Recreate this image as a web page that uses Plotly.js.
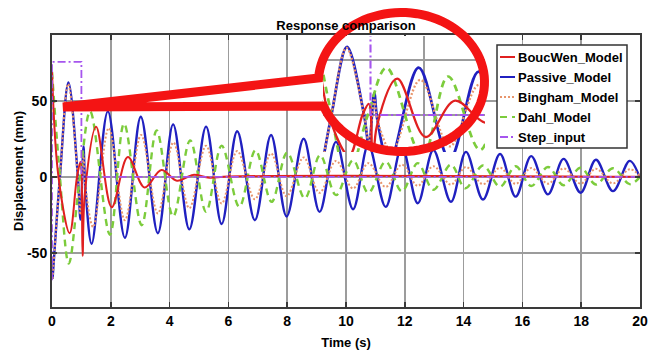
<!DOCTYPE html>
<html>
<head>
<meta charset="utf-8">
<script src="https://cdn.plot.ly/plotly-3.0.1.min.js"></script>
<style>html,body{margin:0;padding:0;background:#fff}#chart{width:656px;height:351px}</style>
</head>
<body>
<div id="chart"></div>
<script>
// ---------------- data ----------------
const seriesNames = ['BoucWen_Model', 'Passive_Model', 'Bingham_Model', 'Dahl_Model', 'Step_input'];

const boucWenT = [0, 0.22, 0.6, 0.85, 0.97, 1.04, 1.12, 1.5, 2.03, 2.58, 3.15, 3.72, 4.25, 4.8, 5.35, 6.0, 20];
const boucWenY = [69, 0, -37, 0, 10, -52, -10, 33, -20, 13, -7, 4.5, -2.5, 1.3, -0.6, 0.2, 0];

const passiveT = [0.02, 0.27, 0.56, 0.88, 0.97, 1.07, 1.13, 1.35, 1.9, 2.48, 3.02, 3.6, 4.12, 4.67, 5.24, 5.77, 6.3, 6.9, 7.45, 7.98, 8.56, 9.1, 9.66, 10.24, 10.76, 11.35, 11.9, 12.44, 12.97, 13.57, 14.08, 14.66, 15.24, 15.77, 16.3, 16.87, 17.4, 17.98, 18.5, 19.08, 19.65, 20];
const passiveY = [-67, 0, 62, 0, -28, 20, -5, -44, 43, -40, 39.5, -37, 34.5, -34.5, 33, -31, 30, -28.5, 27.5, -26, 25, -23, 23, -21.3, 21, -19.7, 19.7, -17.3, 17.6, -16.4, 16.4, -14.9, 15, -13, 13.6, -11.5, 11.8, -10.4, 11.2, -9.4, 10.5, -1];

const binghamT = [0.02, 0.27, 0.55, 0.88, 0.97, 1.07, 1.13, 1.4, 1.93, 2.48, 3.03, 3.6, 4.13, 4.67, 5.24, 5.77, 6.3, 6.9, 7.45, 7.98, 8.56, 9.1, 9.66, 10.24, 10.76, 11.35, 11.9, 12.44, 12.97, 13.57, 14.08, 14.66, 15.24, 15.77, 16.3, 16.87, 17.4, 17.98, 18.5, 19.08, 19.65, 20];
const binghamY = [-67, 0, 61, 0, -25, 15, -5, -33, 32, -28.5, 27.5, -24, 22.6, -20.6, 20.5, -17.5, 17, -14.7, 15.4, -12.7, 12.8, -10.5, 10.5, -7.6, 9, -6.6, 8, -5.9, 7, -5.1, 6.5, -4.8, 6, -4.6, 5.8, -4.5, 5.5, -4.4, 5.3, -4.3, 5, 0.5];

const dahlT = [0, 0.25, 0.57, 0.95, 1.3, 1.97, 2.45, 3.05, 3.56, 4.12, 4.7, 5.24, 5.77, 6.37, 6.92, 7.47, 8.0, 8.6, 9.12, 9.66, 10.24, 10.76, 11.35, 11.9, 12.44, 12.97, 13.57, 14.06, 14.66, 15.24, 15.77, 16.3, 16.87, 17.4, 17.98, 18.5, 19.08, 19.65, 20];
const dahlY = [69, 5, -57, 0, 43, -38, 35, -31.8, 30.5, -26, 24, -23, 20.5, -19.7, 17.5, -16.4, 16, -14.2, 14.3, -12, 11, -10.5, 10, -9.5, 9, -8.5, 8, -7.5, 7.5, -6.5, 7, -6, 6.5, -5.5, 6, -5, 5.7, -4.8, 0];

const stepT = [0, 0, 1, 1, 20];
const stepY = [-68, 75.5, 75.5, 0, 0];

const xTickVals = [0, 2, 4, 6, 8, 10, 12, 14, 16, 18, 20];
const xTickText = ['0', '2', '4', '6', '8', '10', '12', '14', '16', '18', '20'];
const yTickVals = [-50, 0, 50];
const yTickText = ['-50', '0', '50'];

// ---------------- geometry helpers (pixels -> paper / inset axes) ----------------
const W = 656, H = 351, PL = 52, PR = 640, PT = 35, PB = 307;
const px2x = p => (p - PL) / (PR - PL);
const py2y = p => (PB - p) / (PB - PT);
// inset (magnified view) scale: t = (px - 317)/53.5 ; mm = (115 - py)/1.1
const ipx = p => (p - 317) / 53.5;
const ipy = p => (115 - p) / 1.1;
const insetBox = {x0: 323, x1: 485, y0: 36, y1: 152};

const FONT = 'Liberation Sans, Arial, sans-serif';
const colors = {red: '#e02020', blue: '#2020c0', orange: '#e8956c', green: '#7ccc3c', purple: '#a655ee'};
const lineStyles = [
  {color: colors.red, width: 2, dash: 'solid'},
  {color: colors.blue, width: 2.4, dash: 'solid'},
  {color: colors.orange, width: 2, dash: '2px,2px'},
  {color: colors.green, width: 2.4, dash: '7px,5px'},
  {color: colors.purple, width: 1.8, dash: '8px,3px,2px,3px'}
];
const seriesT = [boucWenT, passiveT, binghamT, dahlT, stepT];
const seriesY = [boucWenY, passiveY, binghamY, dahlY, stepY];
const drawOrder = [1, 2, 3, 0, 4];

const traces = [];
drawOrder.forEach(i => {
  traces.push({x: seriesT[i], y: seriesY[i], name: seriesNames[i], type: 'scatter', mode: 'lines',
    line: Object.assign({shape: i === 4 ? 'linear' : 'spline', smoothing: 1}, lineStyles[i]),
    showlegend: false, xaxis: 'x', yaxis: 'y', hoverinfo: 'skip'});
});
drawOrder.forEach(i => {
  const st = lineStyles[i];
  traces.push({x: seriesT[i], y: seriesY[i], name: seriesNames[i], type: 'scatter', mode: 'lines',
    line: Object.assign({shape: i === 4 ? 'linear' : 'spline', smoothing: 1}, st, {width: st.width + 0.3}),
    showlegend: false, xaxis: 'x2', yaxis: 'y2', hoverinfo: 'skip'});
});

// callout: ellipse ring + tail
const cx = 401.5, cy = 82, rx = 83, ry = 69.5;
const tip = [63, 107];
const thU = Math.PI - Math.asin((78 - cy) / ry);
const thL = 3 * Math.PI - Math.asin((106 - cy) / ry);
let ring = '';
const N = 90;
for (let k = 0; k <= N; k++) {
  const th = thU + (thL - thU) * k / N;
  const X = px2x(cx + rx * Math.cos(th)), Y = py2y(cy + ry * Math.sin(th));
  ring += (k === 0 ? 'M' : 'L') + X.toFixed(5) + ',' + Y.toFixed(5) + ' ';
}
const uP = [cx + rx * Math.cos(thU), cy + ry * Math.sin(thU)];
const lP = [cx + rx * Math.cos(thL), cy + ry * Math.sin(thL)];
ring += 'L' + px2x(tip[0]).toFixed(5) + ',' + py2y(tip[1]).toFixed(5) + ' Z';
const tailFill = 'M' + px2x(uP[0]) + ',' + py2y(uP[1]) + ' L' + px2x(tip[0]) + ',' + py2y(tip[1]) +
  ' L' + px2x(lP[0]) + ',' + py2y(lP[1]) + ' Z';

const shapes = [
  {type: 'circle', xref: 'x2', yref: 'y2', layer: 'below',
   x0: ipx(cx - rx), x1: ipx(cx + rx), y0: ipy(cy + ry), y1: ipy(cy - ry),
   fillcolor: '#ffffff', line: {width: 0}},
  {type: 'path', xref: 'paper', yref: 'paper', layer: 'above', path: tailFill,
   fillcolor: '#ffffff', line: {width: 0}},
  {type: 'path', xref: 'paper', yref: 'paper', layer: 'above', path: ring,
   fillcolor: 'rgba(0,0,0,0)', line: {color: '#f41414', width: 9}}
];

// legend (box, line samples, labels)
const legBox = {x0: 497, x1: 627, y0: 45, y1: 148};
const legRowY = [57, 77, 97, 117, 137];
const annotations = [];
shapes.push({type: 'rect', xref: 'paper', yref: 'paper', layer: 'above',
  x0: px2x(legBox.x0), x1: px2x(legBox.x1), y0: py2y(legBox.y1), y1: py2y(legBox.y0),
  fillcolor: '#ffffff', line: {color: '#333333', width: 1.5}});
seriesNames.forEach((nm, i) => {
  const st = lineStyles[i];
  shapes.push({type: 'line', xref: 'paper', yref: 'paper', layer: 'above',
    x0: px2x(500), x1: px2x(515), y0: py2y(legRowY[i]), y1: py2y(legRowY[i]),
    line: {color: st.color, width: Math.min(st.width, 2), dash: st.dash}});
  annotations.push({text: nm, xref: 'paper', yref: 'paper', x: px2x(516), y: py2y(legRowY[i]),
    xanchor: 'left', yanchor: 'middle', showarrow: false,
    font: {family: FONT, size: 13, weight: 'bold', color: '#000'}});
});

const gridC = '#9c9c9c';
const layout = {
  width: W, height: H,
  margin: {l: PL, r: W - PR, t: PT, b: H - PB, pad: 0},
  paper_bgcolor: '#ffffff', plot_bgcolor: 'rgba(0,0,0,0)',
  font: {family: FONT, size: 13, color: '#000'},
  title: {text: 'Response comparison', font: {family: FONT, size: 13, weight: 'bold', color: '#000'},
          x: 0.5, xref: 'paper', xanchor: 'center', y: 1 - 25 / H, yref: 'container', yanchor: 'middle'},
  showlegend: false,
  xaxis: {range: [0, 20], tickmode: 'array', tickvals: xTickVals, ticktext: xTickText,
          showgrid: true, gridcolor: gridC, gridwidth: 1.5, zeroline: false,
          showline: true, linecolor: '#3a3a3a', linewidth: 2, mirror: 'ticks', ticks: 'inside', ticklen: 5,
          tickcolor: '#3a3a3a', tickwidth: 1.5,
          tickfont: {family: FONT, size: 14, weight: 'bold', color: '#000'},
          title: {text: 'Time (s)', font: {family: FONT, size: 13, weight: 'bold', color: '#000'}, standoff: 10},
          automargin: false},
  yaxis: {range: [-85.5, 93.2], tickmode: 'array', tickvals: yTickVals, ticktext: yTickText,
          showgrid: true, gridcolor: gridC, gridwidth: 1.5, zeroline: false,
          showline: true, linecolor: '#3a3a3a', linewidth: 2, mirror: 'ticks', ticks: 'inside', ticklen: 5,
          tickcolor: '#3a3a3a', tickwidth: 1.5,
          tickfont: {family: FONT, size: 14, weight: 'bold', color: '#000'},
          title: {text: 'Displacement (mm)', font: {family: FONT, size: 13, weight: 'bold', color: '#000'}, standoff: 0},
          automargin: false},
  xaxis2: {domain: [px2x(insetBox.x0), px2x(insetBox.x1)], anchor: 'y2',
           range: [ipx(insetBox.x0), ipx(insetBox.x1)], tick0: 0, dtick: 2,
           showgrid: true, gridcolor: gridC, gridwidth: 1.5, zeroline: false,
           showline: false, showticklabels: false, ticks: ''},
  yaxis2: {domain: [py2y(insetBox.y1), py2y(insetBox.y0)], anchor: 'x2',
           range: [ipy(insetBox.y1), ipy(insetBox.y0)], tick0: 0, dtick: 50,
           showgrid: true, gridcolor: gridC, gridwidth: 1.5, zeroline: false,
           showline: false, showticklabels: false, ticks: ''},
  shapes: shapes,
  annotations: annotations
};

Plotly.newPlot('chart', traces, layout, {staticPlot: true, displayModeBar: false});
</script>
</body>
</html>
